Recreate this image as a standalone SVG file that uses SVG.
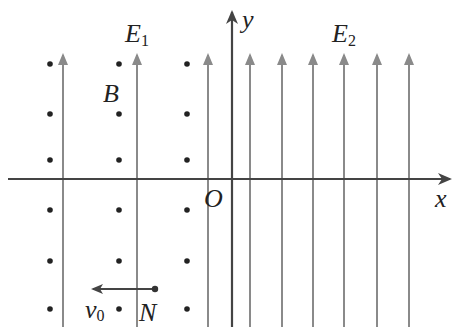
<svg xmlns="http://www.w3.org/2000/svg" width="454" height="327" viewBox="0 0 454 327">
<style>
.f{stroke:#8a8a8a;stroke-width:2;fill:none}
.ax{stroke:#444;stroke-width:2.2;fill:none}
.d{fill:#222}
text{font-family:"Liberation Serif","Times New Roman",serif;font-style:italic;fill:#222;font-size:26px}
.s{font-style:normal;font-size:16px}
</style>
<defs>
<marker id="fa" markerWidth="12" markerHeight="10" refX="10" refY="5" orient="auto" markerUnits="userSpaceOnUse" viewBox="0 0 12 10"><path d="M0,0 L12,5 L0,10 Z" fill="#8a8a8a"/></marker>
<marker id="aa" markerWidth="14" markerHeight="12" refX="12" refY="6" orient="auto" markerUnits="userSpaceOnUse" viewBox="0 0 14 12"><path d="M0,0 L14,6 L0,12 L4,6 Z" fill="#444"/></marker>
<marker id="va" markerWidth="12" markerHeight="10" refX="10" refY="5" orient="auto" markerUnits="userSpaceOnUse" viewBox="0 0 12 10"><path d="M0,0 L12,5 L0,10 L3,5 Z" fill="#444"/></marker>
</defs>
<g id="connectors">
<line class="f" x1="63" y1="327" x2="63" y2="55" marker-end="url(#fa)"/>
<line class="f" x1="137" y1="327" x2="137" y2="55" marker-end="url(#fa)"/>
<line class="f" x1="208" y1="327" x2="208" y2="55" marker-end="url(#fa)"/>
<line class="f" x1="250" y1="327" x2="250" y2="55" marker-end="url(#fa)"/>
<line class="f" x1="282" y1="327" x2="282" y2="55" marker-end="url(#fa)"/>
<line class="f" x1="313" y1="327" x2="313" y2="55" marker-end="url(#fa)"/>
<line class="f" x1="344" y1="327" x2="344" y2="55" marker-end="url(#fa)"/>
<line class="f" x1="377" y1="327" x2="377" y2="55" marker-end="url(#fa)"/>
<line class="f" x1="409" y1="327" x2="409" y2="55" marker-end="url(#fa)"/>
<line class="ax" x1="8" y1="179" x2="450" y2="179" marker-end="url(#aa)"/>
<line class="ax" x1="232" y1="327" x2="232" y2="12" marker-end="url(#aa)"/>
<line class="ax" x1="155" y1="289" x2="93" y2="289" marker-end="url(#va)"/>
</g>
<g id="dots">
<circle class="d" cx="50" cy="64" r="2.8"/><circle class="d" cx="119" cy="64" r="2.8"/><circle class="d" cx="187" cy="64" r="2.8"/>
<circle class="d" cx="50" cy="114" r="2.8"/><circle class="d" cx="119" cy="114" r="2.8"/><circle class="d" cx="187" cy="114" r="2.8"/>
<circle class="d" cx="50" cy="160" r="2.8"/><circle class="d" cx="119" cy="160" r="2.8"/><circle class="d" cx="187" cy="160" r="2.8"/>
<circle class="d" cx="50" cy="210" r="2.8"/><circle class="d" cx="119" cy="210" r="2.8"/><circle class="d" cx="187" cy="210" r="2.8"/>
<circle class="d" cx="50" cy="261" r="2.8"/><circle class="d" cx="119" cy="261" r="2.8"/><circle class="d" cx="187" cy="261" r="2.8"/>
<circle class="d" cx="50" cy="309" r="2.8"/><circle class="d" cx="119" cy="309" r="2.8"/><circle class="d" cx="187" cy="309" r="2.8"/>
</g>
<g id="N"><circle cx="155" cy="289" r="3.2" fill="#333"/><text x="139" y="321">N</text></g>
<g id="labels">
<text x="125" y="42">E<tspan class="s" dy="4">1</tspan></text>
<text x="103" y="102">B</text>
<text x="242" y="28">y</text>
<text x="332" y="42">E<tspan class="s" dy="4">2</tspan></text>
<text x="204" y="207">O</text>
<text x="435" y="207">x</text>
<text x="85" y="318">v<tspan class="s" dy="3">0</tspan></text>
</g>
</svg>
